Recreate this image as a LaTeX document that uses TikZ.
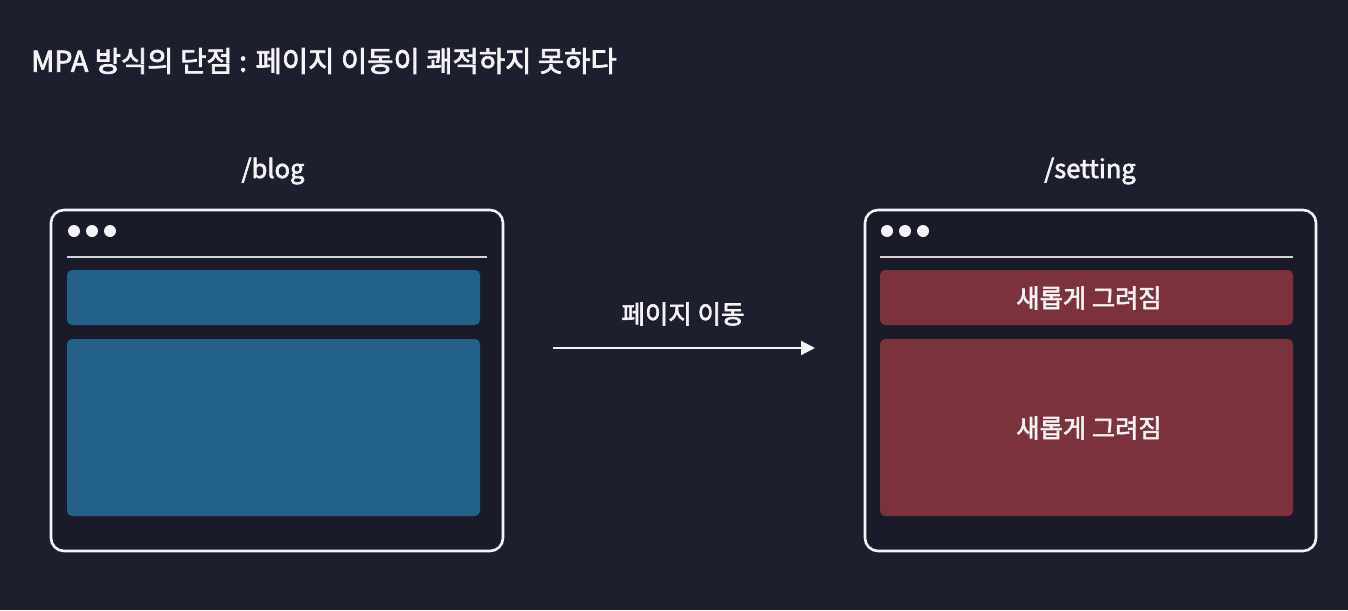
\documentclass[tikz,border=0pt]{standalone}
\usepackage{fontspec}
\setmainfont{Noto Sans CJK KR}
\newfontfamily\medfont{Noto Sans CJK KR}[FakeBold=2.5]
\usetikzlibrary{arrows.meta}
\definecolor{bg}{HTML}{1D1E2E}
\definecolor{winbg}{HTML}{1A1B29}
\definecolor{blueblk}{HTML}{22618A}
\definecolor{redblk}{HTML}{7C323C}
\definecolor{fg}{HTML}{F4F4F6}
\tikzset{
  win/.style={draw=fg, line width=2.6pt, rounded corners=13pt, fill=winbg},
  blk/.style={rounded corners=5pt},
  dot/.style={circle, fill=fg, inner sep=0pt, minimum size=12pt},
  sep/.style={draw=fg!85!bg, line width=1.2pt},
  lbl/.style={text=fg, font=\medfont\fontsize{25.5}{30}\selectfont, inner sep=0pt},
  ttl/.style={text=fg, font=\medfont\fontsize{28.6}{33}\selectfont, inner sep=0pt},
  blktxt/.style={text=fg, font=\medfont\fontsize{25.3}{29}\selectfont, inner sep=0pt},
}
\begin{document}
\begin{tikzpicture}[x=1pt,y=-1pt]
\fill[bg] (0,0) rectangle (1348,610);
\useasboundingbox (0,0) rectangle (1348,610);
\node[ttl, anchor=west] (title) at (31,61) {MPA 방식의 단점 : 페이지 이동이 쾌적하지 못하다};
% left window
\node[lbl] (blogl) at (273,171) {/blog};
\draw[win] (51,210) rectangle (503,551);
\node[dot] (ld1) at (74,231) {};
\node[dot] (ld2) at (92,231) {};
\node[dot] (ld3) at (110,231) {};
\draw[sep] (67,257) -- (487,257);
\fill[blueblk, blk] (67,270) rectangle (480,325);
\fill[blueblk, blk] (67,339) rectangle (480,516);
% arrow
\node[lbl] (movel) at (683,314) {페이지 이동};
\coordinate (as) at (553,348);
\coordinate (ae) at (815,348);
\draw[fg, line width=2.2pt, -{Triangle[length=14pt,width=14pt]}] (as) -- (ae);
% right window
\node[lbl] (setl) at (1090,171) {/setting};
\draw[win] (865,210) rectangle (1316,551);
\node[dot] (rd1) at (887,231) {};
\node[dot] (rd2) at (905,231) {};
\node[dot] (rd3) at (923,231) {};
\draw[sep] (880,257) -- (1293,257);
\fill[redblk, blk] (880,270) rectangle (1293,325);
\fill[redblk, blk] (880,339) rectangle (1293,516);
\node[blktxt] (r1) at (1089,298) {새롭게 그려짐};
\node[blktxt] (r2) at (1089,428) {새롭게 그려짐};
\end{tikzpicture}
\end{document}
